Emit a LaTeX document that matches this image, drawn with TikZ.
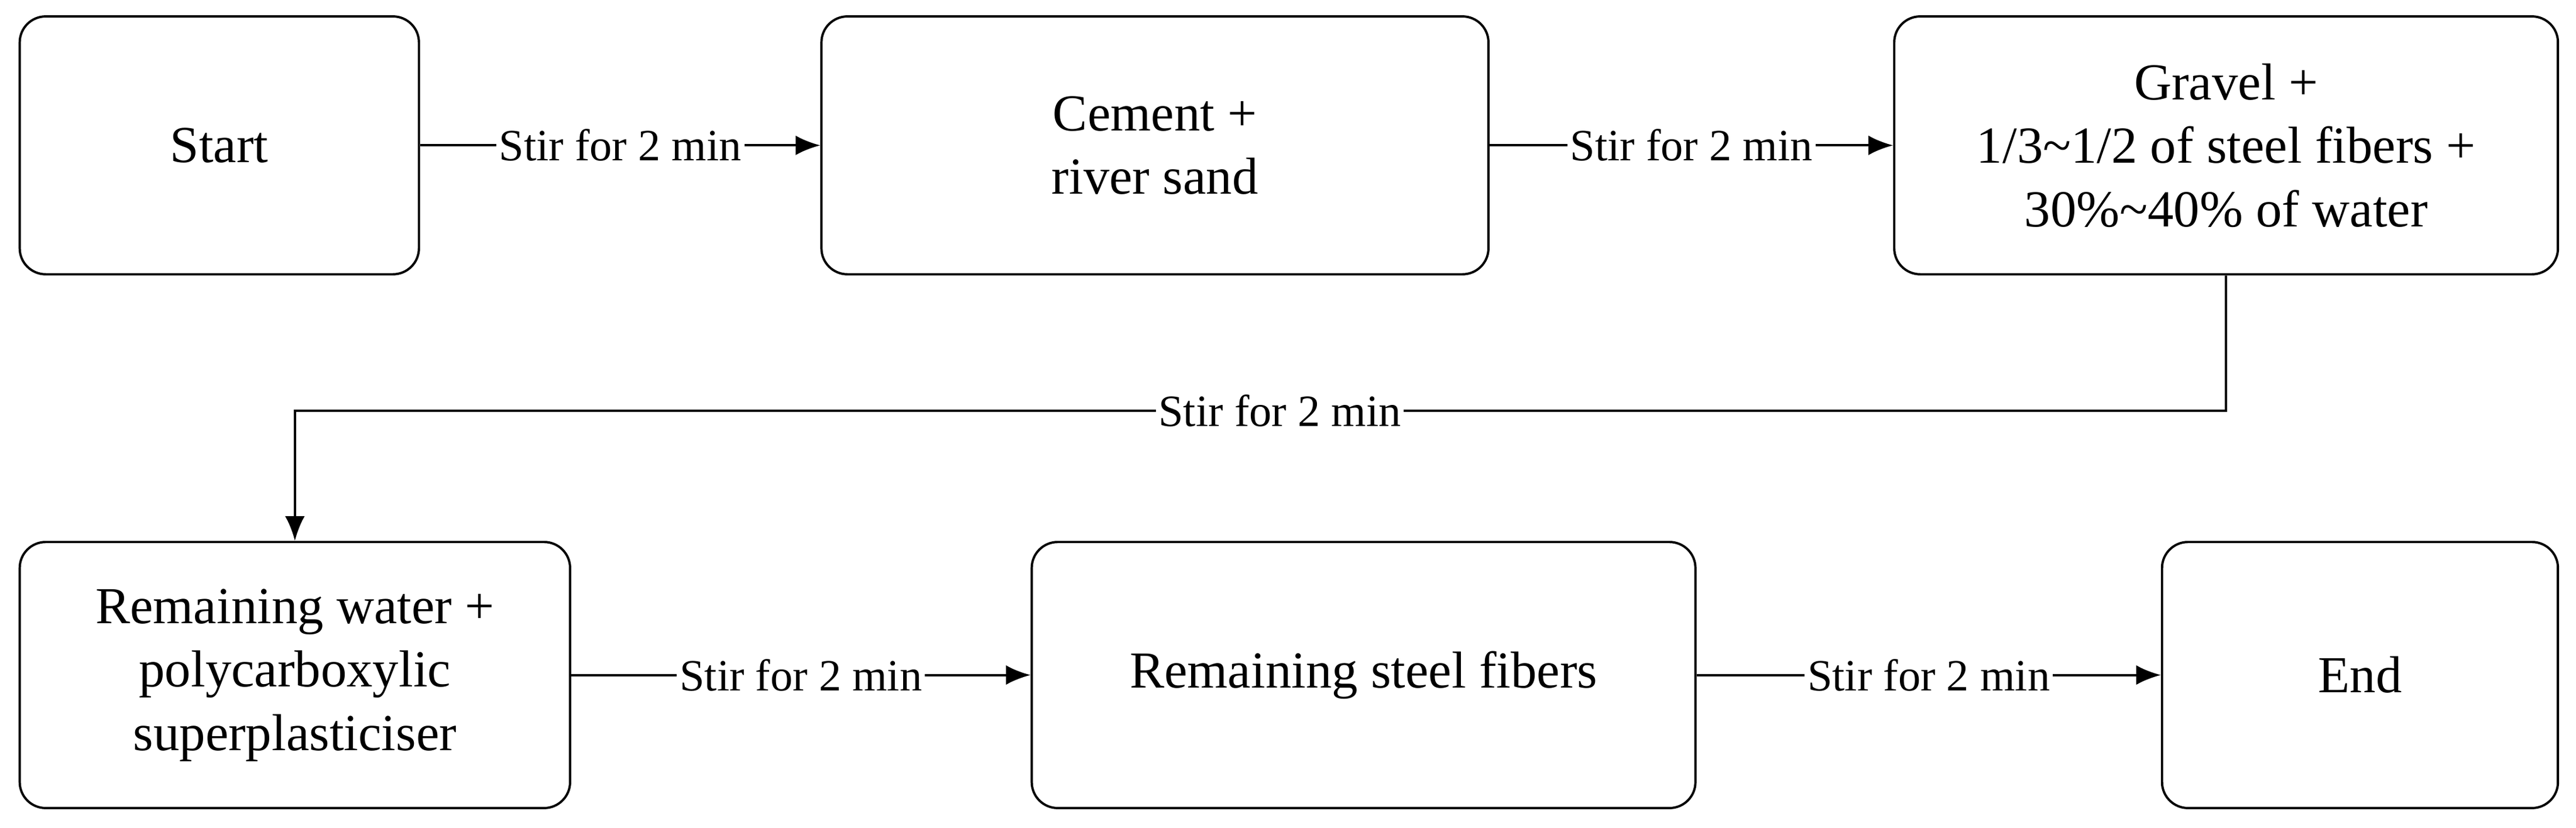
\documentclass[tikz,border=0pt]{standalone}
\usepackage{fontspec}
\setmainfont{Liberation Serif}
\usetikzlibrary{arrows.meta}
\begin{document}
\begin{tikzpicture}[-{Latex[length=3mm,width=2.4mm]},thick]
    \tikzstyle{stage}=[draw,rounded corners=9pt,align=center,font=\fontsize{18}{22}\selectfont,inner sep=0pt]
    \tikzstyle{lbl}=[fill=white,inner sep=1pt,font=\fontsize{15.5}{18}\selectfont]
    \useasboundingbox (0,0) rectangle (31.36,-10.08);
    \node[stage,minimum width=4.86cm,minimum height=3.14cm] (S_start) at (2.67,-1.77) {Start};
    \node[stage,minimum width=8.12cm,minimum height=3.14cm] (S_cement) at (14.06,-1.77) {Cement +\\river sand};
    \node[stage,minimum width=8.08cm,minimum height=3.14cm] (S_gravel) at (27.1,-1.77) {Gravel +\\1/3\textasciitilde1/2 of steel fibers +\\30\%\textasciitilde40\% of water};
    \node[stage,minimum width=6.7cm,minimum height=3.24cm] (S_water) at (3.59,-8.22) {Remaining water +\\polycarboxylic\\superplasticiser};
    \node[stage,minimum width=8.08cm,minimum height=3.24cm] (S_fiber) at (16.6,-8.22) {Remaining steel fibers};
    \node[stage,minimum width=4.82cm,minimum height=3.24cm] (S_end) at (28.73,-8.22) {End};
    \coordinate (F_1) at (27.1,-5.0);
    \coordinate (F_2) at (3.59,-5.0);
    \draw (S_start) -- node[lbl] {Stir for 2 min} (S_cement);
    \draw (S_cement) -- node[lbl] {Stir for 2 min} (S_gravel);
    \draw (S_gravel) -- (F_1) -- node[lbl,pos=0.49] {Stir for 2 min} (F_2) -- (S_water);
    \draw (S_water) -- node[lbl] {Stir for 2 min} (S_fiber);
    \draw (S_fiber) -- node[lbl] {Stir for 2 min} (S_end);
  \end{tikzpicture}
\end{document}
